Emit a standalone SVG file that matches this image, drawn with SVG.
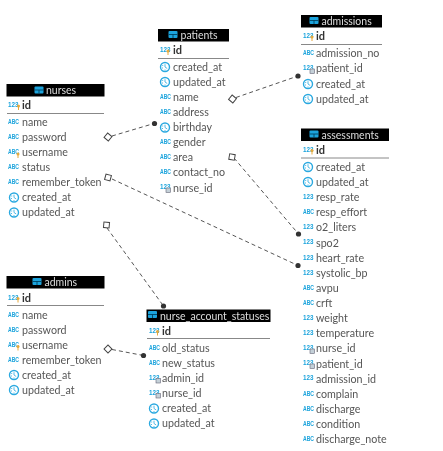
<svg xmlns="http://www.w3.org/2000/svg" width="443" height="451" viewBox="0 0 443 451">
<style>
text{font-family:Lato,"Noto Sans","DejaVu Sans",sans-serif}
svg>g{filter:url(#s)}
.r{font-size:10.7px;fill:#555}
.k{font-size:11px;fill:#333;font-weight:700}
.h{font-size:10.5px;fill:#ddd}
.i{font-size:7px;font-weight:700;fill:#1ba3dc;font-family:"Liberation Sans",sans-serif}
.b{fill:#000}
.l{stroke:#888;stroke-width:1}
.c{fill:none;stroke:#555;stroke-width:1;stroke-dasharray:4 3}
.d{fill:#fff;stroke:#444;stroke-width:1}
.e{fill:#333}
</style>
<defs>
<filter id="s" x="-5%" y="-5%" width="110%" height="110%"><feGaussianBlur stdDeviation=".3"/></filter>
<text id="abc" class="i" textLength="11" lengthAdjust="spacingAndGlyphs">ABC</text>
<text id="num" class="i" textLength="10.500" lengthAdjust="spacingAndGlyphs">123</text>
<g id="tb"><rect x="0" y="0" width="9" height="7" rx="1" fill="#1ba3dc"/><path d="M0 3.500H9M4.500 3.500V7" stroke="#003a55" stroke-width=".8"/></g>
<g id="ck"><circle cx="5" cy="0" r="4.500" fill="#fff" stroke="#2aa9e0" stroke-width="1.400"/><path d="M5-2.800V0L7.200 1.500M2.200-1.500H3.200M2 1H3M5 2.500V3.500" stroke="#2aa9e0" stroke-width=".8" fill="none"/></g>
<g id="ky"><circle cx="0" cy="0" r="1.500" fill="#e8a93a"/><path d="M0 1V4" stroke="#e8a93a" stroke-width="1"/></g>
<g id="fk"><rect x="-2" y="-2" width="4.500" height="4.500" fill="#c4d0d8" stroke="#667" stroke-width=".6"/></g>
</defs>
<g id="connectors">
<path class="c" d="M112 136 L154 123.500"/>
<path class="c" d="M236 97.500 L298 76"/>
<path class="c" d="M112 179 L298 265.500"/>
<path class="c" d="M234 158 L298.500 234"/>
<path class="c" d="M107 228 L163.500 306"/>
<path class="c" d="M112 349.500 L143.500 355.500"/>
<rect class="d" x="-2.800" y="-2.800" width="5.600" height="5.600" transform="translate(108 137) rotate(40)"/>
<rect class="d" x="-2.800" y="-2.800" width="5.600" height="5.600" transform="translate(232.500 99) rotate(40)"/>
<rect class="d" x="-2.800" y="-2.800" width="5.600" height="5.600" transform="translate(108 177.500) rotate(15)"/>
<rect class="d" x="-2.800" y="-2.800" width="5.600" height="5.600" transform="translate(232 157) rotate(10)"/>
<rect class="d" x="-2.800" y="-2.800" width="5.600" height="5.600" transform="translate(106.500 225) rotate(5)"/>
<rect class="d" x="-2.800" y="-2.800" width="5.600" height="5.600" transform="translate(108 349) rotate(45)"/>
<circle class="e" cx="154.500" cy="123.500" r="2.600"/>
<circle class="e" cx="298" cy="76" r="2.600"/>
<circle class="e" cx="298" cy="265.500" r="2.600"/>
<circle class="e" cx="298.500" cy="234" r="2.600"/>
<circle class="e" cx="163.500" cy="306" r="2.600"/>
<circle class="e" cx="143.500" cy="355.500" r="2.600"/>
</g>
<g id="nurses">
<rect class="b" x="6.500" y="84" width="98" height="12.500"/><use href="#tb" x="34.500" y="86.500"/><text class="h" x="46" y="94">nurses</text>
<use href="#num" x="8" y="107"/><use href="#ky" x="18.500" y="106"/><text class="k" x="22" y="109">id</text><path class="l" d="M7 113.500H104"/>
<use href="#abc" x="8" y="124"/><text class="r" x="22" y="126">name</text>
<use href="#abc" x="8" y="139"/><text class="r" x="22" y="141">password</text>
<use href="#abc" x="8" y="154"/><use href="#ky" x="18" y="154"/><text class="r" x="22" y="156">username</text>
<use href="#abc" x="8" y="169"/><text class="r" x="22" y="171">status</text>
<use href="#abc" x="8" y="184"/><text class="r" x="22" y="186">remember_token</text>
<use href="#ck" x="9" y="197.500"/><text class="r" x="22" y="201">created_at</text>
<use href="#ck" x="9" y="212.500"/><text class="r" x="22" y="216">updated_at</text>
</g>
<g id="patients">
<rect class="b" x="158" y="29" width="71" height="12.500"/><use href="#tb" x="168.500" y="31"/><text class="h" x="180.500" y="39">patients</text>
<use href="#num" x="160" y="52"/><use href="#ky" x="168" y="51"/><text class="k" x="173" y="54">id</text><path class="l" d="M158 58.500H229"/>
<use href="#ck" x="160" y="67"/><text class="r" x="173" y="71">created_at</text>
<use href="#ck" x="160" y="82"/><text class="r" x="173" y="86">updated_at</text>
<use href="#abc" x="160" y="99"/><text class="r" x="173" y="101">name</text>
<use href="#abc" x="160" y="114"/><text class="r" x="173" y="116">address</text>
<use href="#ck" x="160" y="127.500"/><text class="r" x="173" y="131">birthday</text>
<use href="#abc" x="160" y="144"/><text class="r" x="173" y="146">gender</text>
<use href="#abc" x="160" y="159"/><text class="r" x="173" y="161">area</text>
<use href="#abc" x="160" y="174"/><text class="r" x="173" y="176">contact_no</text>
<use href="#num" x="160" y="189"/><use href="#fk" x="168" y="190"/><text class="r" x="173" y="192">nurse_id</text>
</g>
<g id="admissions">
<rect class="b" x="301" y="15" width="81" height="12.500"/><use href="#tb" x="309.500" y="17"/><text class="h" x="321.500" y="25">admissions</text>
<use href="#num" x="303" y="38"/><use href="#ky" x="312" y="37"/><text class="k" x="316" y="40">id</text><path class="l" d="M301 44.500H382"/>
<use href="#abc" x="303" y="55"/><text class="r" x="316" y="57">admission_no</text>
<use href="#num" x="303" y="70"/><use href="#fk" x="312" y="71"/><text class="r" x="316" y="72">patient_id</text>
<use href="#ck" x="303" y="84"/><text class="r" x="316" y="87.500">created_at</text>
<use href="#ck" x="303" y="99"/><text class="r" x="316" y="102.500">updated_at</text>
</g>
<g id="assessments">
<rect class="b" x="301" y="128.500" width="88" height="12.500"/><use href="#tb" x="309.500" y="130.500"/><text class="h" x="321.500" y="138.500">assessments</text>
<use href="#num" x="303" y="151.500"/><use href="#ky" x="312" y="150.500"/><text class="k" x="316" y="153.500">id</text><path class="l" d="M301 158H389"/>
<use href="#ck" x="303" y="167"/><text class="r" x="316" y="170.500">created_at</text>
<use href="#ck" x="303" y="182"/><text class="r" x="316" y="185.500">updated_at</text>
<use href="#num" x="303" y="199"/><text class="r" x="316" y="201">resp_rate</text>
<use href="#abc" x="303" y="214"/><text class="r" x="316" y="216">resp_effort</text>
<use href="#num" x="303" y="229"/><text class="r" x="316" y="231">o2_liters</text>
<use href="#num" x="303" y="244"/><text class="r" x="316" y="246.500">spo2</text>
<use href="#num" x="303" y="259.500"/><text class="r" x="316" y="261.500">heart_rate</text>
<use href="#num" x="303" y="274.500"/><text class="r" x="316" y="276.500">systolic_bp</text>
<use href="#abc" x="303" y="289.500"/><text class="r" x="316" y="291.500">avpu</text>
<use href="#abc" x="303" y="304.500"/><text class="r" x="316" y="306.500">crft</text>
<use href="#num" x="303" y="319.500"/><text class="r" x="316" y="322">weight</text>
<use href="#num" x="303" y="335"/><text class="r" x="316" y="337">temperature</text>
<use href="#num" x="303" y="350"/><use href="#fk" x="312" y="351"/><text class="r" x="316" y="352">nurse_id</text>
<use href="#num" x="303" y="365"/><use href="#fk" x="312" y="366"/><text class="r" x="316" y="367.500">patient_id</text>
<use href="#num" x="303" y="380"/><text class="r" x="316" y="382.500">admission_id</text>
<use href="#abc" x="303" y="395.500"/><text class="r" x="316" y="397.500">complain</text>
<use href="#abc" x="303" y="410.500"/><text class="r" x="316" y="412.500">discharge</text>
<use href="#abc" x="303" y="425.500"/><text class="r" x="316" y="427.500">condition</text>
<use href="#abc" x="303" y="440.500"/><text class="r" x="316" y="442.500">discharge_note</text>
</g>
<g id="admins">
<rect class="b" x="6.500" y="276" width="98" height="12.500"/><use href="#tb" x="32.500" y="278"/><text class="h" x="44.500" y="286">admins</text>
<use href="#num" x="8" y="299.500"/><use href="#ky" x="18" y="298.500"/><text class="k" x="22" y="301.500">id</text><path class="l" d="M7 305.500H104"/>
<use href="#abc" x="8" y="316.500"/><text class="r" x="22" y="319">name</text>
<use href="#abc" x="8" y="331.500"/><text class="r" x="22" y="334">password</text>
<use href="#abc" x="8" y="346.500"/><use href="#ky" x="18" y="346.500"/><text class="r" x="22" y="349">username</text>
<use href="#abc" x="8" y="361.500"/><text class="r" x="22" y="364">remember_token</text>
<use href="#ck" x="9" y="375"/><text class="r" x="22" y="379">created_at</text>
<use href="#ck" x="9" y="390"/><text class="r" x="22" y="394">updated_at</text>
</g>
<g id="nurse_account_statuses">
<rect class="b" x="146.500" y="309.500" width="124" height="12.500"/><use href="#tb" x="148" y="311"/><text class="h" x="160" y="319.500">nurse_account_statuses</text>
<use href="#num" x="149" y="332.500"/><use href="#ky" x="157.500" y="331.500"/><text class="k" x="162" y="334.500">id</text><path class="l" d="M147 338.500H270"/>
<use href="#abc" x="149" y="349.500"/><text class="r" x="162" y="352">old_status</text>
<use href="#abc" x="149" y="364.500"/><text class="r" x="162" y="367">new_status</text>
<use href="#num" x="149" y="379.500"/><use href="#fk" x="158" y="380.500"/><text class="r" x="162" y="382">admin_id</text>
<use href="#num" x="149" y="394.500"/><use href="#fk" x="158" y="395.500"/><text class="r" x="162" y="397">nurse_id</text>
<use href="#ck" x="149" y="408.500"/><text class="r" x="162" y="412">created_at</text>
<use href="#ck" x="149" y="423.500"/><text class="r" x="162" y="427">updated_at</text>
</g>
</svg>
